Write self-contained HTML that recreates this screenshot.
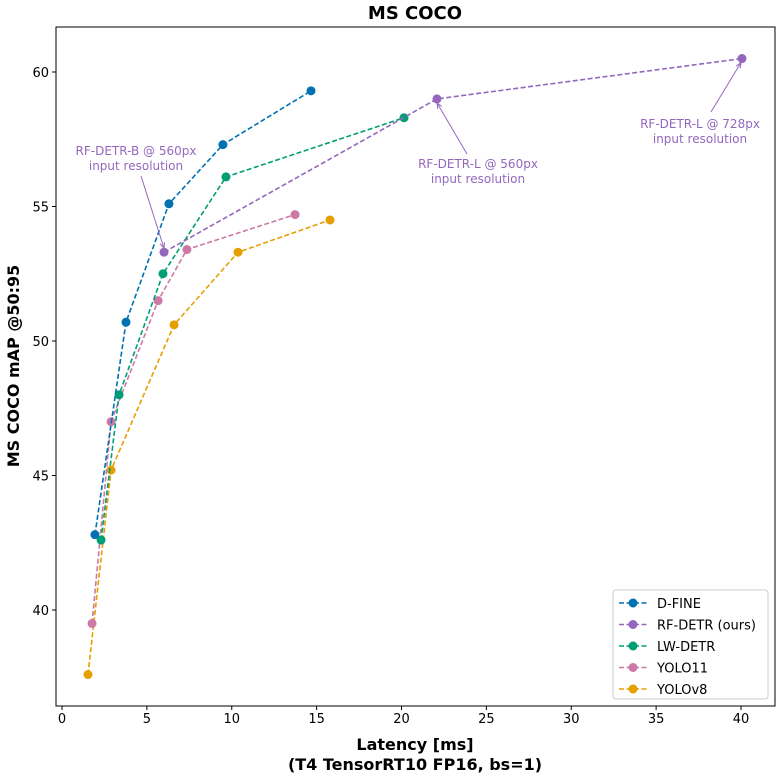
<!DOCTYPE html>
<html><head><meta charset="utf-8"><style>
body{margin:0;background:#fff;}
svg{display:block;font-family:"DejaVu Sans","Liberation Sans",sans-serif;}
</style></head><body>
<svg id="chart" width="783" height="777" xmlns="http://www.w3.org/2000/svg"></svg>
<script>
const seriesNames = ["D-FINE","RF-DETR (ours)","LW-DETR","YOLO11","YOLOv8"];
const seriesColors = ["#0072B2","#9467BD","#009E73","#CC79A7","#E69F00"];
const dfineX = [1.94,3.77,6.3,9.48,14.67];
const dfineY = [42.8,50.7,55.1,57.3,59.3];
const rfdetrX = [6.01,22.09,40.06];
const rfdetrY = [53.3,59.0,60.5];
const lwdetrX = [2.3,3.36,5.95,9.66,20.15];
const lwdetrY = [42.6,48.0,52.5,56.1,58.3];
const yolo11X = [1.77,2.89,5.66,7.36,13.73];
const yolo11Y = [39.5,47.0,51.5,53.4,54.7];
const yolov8X = [1.53,2.89,6.6,10.37,15.79];
const yolov8Y = [37.6,45.2,50.6,53.3,54.5];
const xTicks = [0,5,10,15,20,25,30,35,40];
const yTicks = [40,45,50,55,60];

const NS="http://www.w3.org/2000/svg";
const svg=document.getElementById('chart');
const L=56,R=775,T=27,B=706;
const sx=v=>62+v*(741-62)/40;
const sy=v=>610-(v-40)*(610-72)/20;
function mk(tag,attrs,parent){const e=document.createElementNS(NS,tag);for(const k in attrs)e.setAttribute(k,attrs[k]);(parent||svg).appendChild(e);return e;}

const frame=mk('rect',{x:L,y:T,width:R-L,height:B-T,fill:'none',stroke:'#000','stroke-width':1});



xTicks.forEach(t=>{
  const g=mk('g',{});
  
  
  mk('line',{x1:sx(t),x2:sx(t),y1:B,y2:B+4,stroke:'#000'},g);
  const tx=mk('text',{x:sx(t),y:B+17,'text-anchor':'middle','font-size':13},g);tx.textContent=t;
});
yTicks.forEach(t=>{
  const g=mk('g',{});
  
  
  mk('line',{x1:L-4,x2:L,y1:sy(t),y2:sy(t),stroke:'#000'},g);
  const tx=mk('text',{x:L-7,y:sy(t)+5,'text-anchor':'end','font-size':13},g);tx.textContent=t;
});

const title=mk('text',{x:415,y:19,'text-anchor':'middle','font-size':18,'font-weight':'bold'});title.textContent='MS COCO';


const xl1=mk('text',{x:415,y:750,'text-anchor':'middle','font-size':16,'font-weight':'bold'});xl1.textContent='Latency [ms]';


const xl2=mk('text',{x:415,y:770,'text-anchor':'middle','font-size':16,'font-weight':'bold'});xl2.textContent='(T4 TensorRT10 FP16, bs=1)';


const yl=mk('text',{x:0,y:0,'text-anchor':'middle','font-size':16,'font-weight':'bold',transform:'translate(19,366) rotate(-90)'});yl.textContent='MS COCO mAP @50:95';



const allX=[dfineX,rfdetrX,lwdetrX,yolo11X,yolov8X];
const allY=[dfineY,rfdetrY,lwdetrY,yolo11Y,yolov8Y];
const order=[4,3,2,1,0];
order.forEach(i=>{
  const g=mk('g',{});
  
  
  const pts=allX[i].map((x,j)=>sx(x)+','+sy(allY[i][j])).join(' ');
  mk('polyline',{points:pts,fill:'none',stroke:seriesColors[i],'stroke-width':1.6,'stroke-dasharray':'5,2.5'},g);
  allX[i].forEach((x,j)=>{
    const c=mk('circle',{cx:sx(x),cy:sy(allY[i][j]),r:4.5,fill:seriesColors[i]},g);
    
    
  });
});

function annot(lines,tx,ty,ax,ay,lx,ly,name){
  const g=mk('g',{});
  
  
  lines.forEach((s,k)=>{const t=mk('text',{x:tx,y:ty+k*15,'text-anchor':'middle','font-size':12,fill:'#9467BD'},g);t.textContent=s;});
  mk('line',{x1:lx,y1:ly,x2:ax,y2:ay,stroke:'#9467BD','stroke-width':1},g);
  const ang=Math.atan2(ay-ly,ax-lx);const s=6;
  mk('polyline',{points:(ax-s*Math.cos(ang-0.4))+','+(ay-s*Math.sin(ang-0.4))+' '+ax+','+ay+' '+(ax-s*Math.cos(ang+0.4))+','+(ay-s*Math.sin(ang+0.4)),fill:'none',stroke:'#9467BD'},g);
}
annot(['RF-DETR-B @ 560px','input resolution'],136,155,sx(rfdetrX[0]),sy(rfdetrY[0])-4,141,176,'annotation-rfdetr-b');
annot(['RF-DETR-L @ 560px','input resolution'],478,168,sx(rfdetrX[1]),sy(rfdetrY[1])+4,467,154,'annotation-rfdetr-l-560');
annot(['RF-DETR-L @ 728px','input resolution'],700,128,sx(rfdetrX[2])-1,sy(rfdetrY[2])+4,711,112,'annotation-rfdetr-l-728');

const lg=mk('g',{});


mk('rect',{x:613,y:590,width:155,height:109,rx:3,fill:'#fff',stroke:'#ccc'},lg);
seriesNames.forEach((n,i)=>{
  const e=mk('g',{},lg);
  
  
  const y=603+i*21.5;
  mk('line',{x1:619,x2:647,y1:y,y2:y,stroke:seriesColors[i],'stroke-width':1.6,'stroke-dasharray':'5,2.5'},e);
  mk('circle',{cx:633,cy:y,r:4.5,fill:seriesColors[i]},e);
  const t=mk('text',{x:657,y:y+5,'font-size':13},e);t.textContent=n;
});
</script>
</body></html>
